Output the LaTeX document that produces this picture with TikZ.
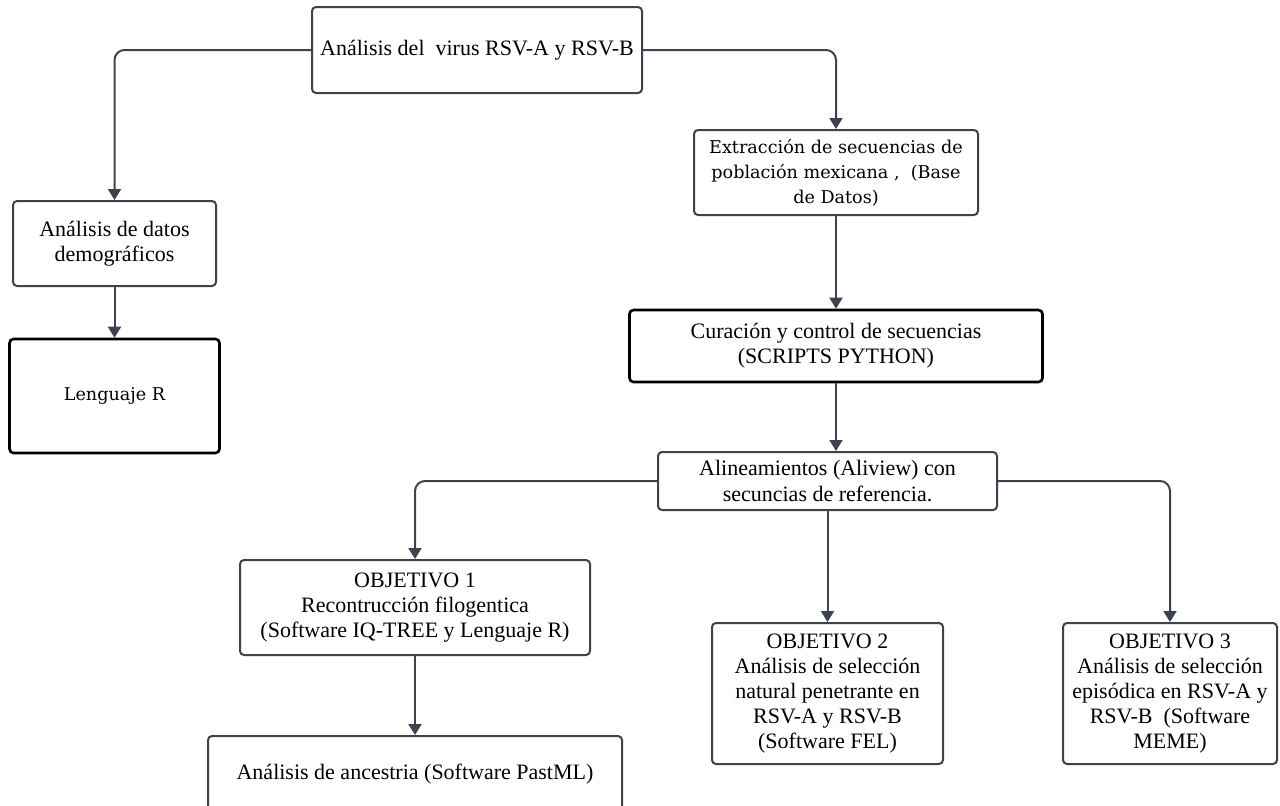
\documentclass[tikz,border=0pt]{standalone}
\usepackage{fontspec}
\setmainfont{Liberation Serif}
\newfontfamily\serifwide{DejaVu Serif}
\usepackage{tikz}
\usetikzlibrary{arrows.meta}
\definecolor{edgegray}{HTML}{3C424E}
\tikzset{
x=0.5pt, y=-0.5pt, % one unit is one pixel of the sketch, y runs downwards
flow/.style={draw=edgegray, line width=1pt, rounded corners=5pt, -{Triangle[width=6.5pt,length=5.5pt]}}, % connectors between boxes
}

\begin{document}
\begin{tikzpicture}[
  stepbox/.style={draw=edgegray, line width=1pt, rounded corners=2pt, align=center, inner sep=0pt,
    font=\fontsize{11}{12.6}\selectfont},
  boldbox/.style={stepbox, draw=black, line width=1.3pt},
  widetext/.style={font=\serifwide\fontsize{8.8}{12.5}\selectfont}
]
  \useasboundingbox (0,0) rectangle (1280,805);

  \node[stepbox, minimum width=165pt, minimum height=43pt] (virus) at (477,50) {Análisis del\ \ virus RSV-A y RSV-B};
  \node[stepbox, widetext, minimum width=142pt, minimum height=42.5pt] (extr) at (836,172.5)
    {Extracción de secuencias de\\población mexicana ,\ \ (Base\\de Datos)};
  \node[stepbox, minimum width=101.5pt, minimum height=42.5pt] (datos) at (114.5,243.5) {Análisis de datos\\demográficos};
  \node[boldbox, widetext, minimum width=105pt, minimum height=57pt] (leng) at (114.5,396) {Lenguaje R};
  \node[boldbox, minimum width=206.5pt, minimum height=36pt] (cura) at (836,346)
    {Curación y control de secuencias\\(SCRIPTS PYTHON)};
  \node[stepbox, minimum width=169.5pt, minimum height=29pt] (alin) at (827.5,481)
    {Alineamientos (Aliview) con\\secuncias de referencia.};
  \node[stepbox, minimum width=175pt, minimum height=47.5pt] (obj1) at (415,607.5)
    {OBJETIVO 1\\Recontrucción filogentica\\(Software IQ-TREE y Lenguaje R)};
  \node[stepbox, minimum width=207pt, minimum height=38pt] (anc) at (415,774) {Análisis de ancestria (Software PastML)};
  \node[stepbox, minimum width=115.5pt, minimum height=70.5pt] (obj2) at (827.5,693.5)
    {OBJETIVO 2\\Análisis de selección\\natural penetrante en\\RSV-A y RSV-B\\(Software FEL)};
  \node[stepbox, minimum width=107pt, minimum height=70.5pt] (obj3) at (1170,693.5)
    {OBJETIVO 3\\Análisis de selección\\episódica en RSV-A y\\RSV-B\ \ (Software\\MEME)};

  \draw[flow] (virus.west) -| (datos.north);
  \draw[flow] (virus.east) -| (extr.north);
  \draw[flow] (datos.south) -- (leng.north);
  \draw[flow] (extr.south) -- (cura.north);
  \draw[flow] (cura.south) -- (cura.south |- alin.north);
  \draw[flow] (alin.west) -| (obj1.north);
  \draw[flow] (alin.south) -- (obj2.north);
  \draw[flow] (alin.east) -| (obj3.north);
  \draw[flow] (obj1.south) -- (anc.north);
\end{tikzpicture}
\end{document}
